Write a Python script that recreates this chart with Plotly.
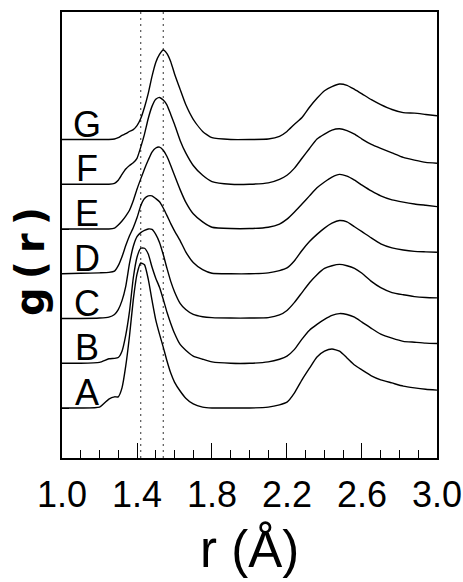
import plotly.graph_objects as go

# r grid (Angstrom)
r = [1.00, 1.10, 1.20, 1.25, 1.28, 1.30, 1.32, 1.34, 1.36, 1.38, 1.40, 1.42, 1.44, 1.46,
     1.48, 1.50, 1.52, 1.54, 1.56, 1.58, 1.60, 1.63, 1.66, 1.70, 1.75, 1.80, 1.90, 2.00,
     2.10, 2.16, 2.20, 2.24, 2.28, 2.32, 2.36, 2.40, 2.44, 2.48, 2.52, 2.56, 2.60, 2.65,
     2.70, 2.76, 2.82, 2.88, 2.94, 3.00]

g_A = [0, 0, 0.02, 0.20, 0.25, 0.25, 0.45, 0.94, 1.61, 2.41, 2.99, 3.24, 3.20, 2.88,
       2.41, 1.97, 1.65, 1.36, 1.05, 0.78, 0.58, 0.38, 0.22, 0.09, 0.02, 0, 0, 0,
       0.02, 0.07, 0.13, 0.34, 0.63, 0.89, 1.14, 1.27, 1.32, 1.27, 1.12, 0.96, 0.85, 0.72,
       0.63, 0.56, 0.49, 0.45, 0.42, 0.40]
g_B = [0, 0, 0.02, 0.10, 0.11, 0.13, 0.27, 0.63, 1.16, 1.90, 2.37, 2.57, 2.57, 2.44,
       2.15, 1.90, 1.70, 1.43, 1.14, 0.89, 0.67, 0.42, 0.29, 0.16, 0.09, 0.03, 0, 0,
       0.03, 0.09, 0.16, 0.31, 0.54, 0.74, 0.87, 0.98, 1.07, 1.11, 1.09, 1.03, 0.92, 0.78,
       0.65, 0.56, 0.49, 0.47, 0.45, 0.44]
g_C = [0, 0, 0.01, 0.03, 0.09, 0.20, 0.40, 0.72, 1.23, 1.61, 1.83, 1.92, 1.97, 2.00,
       1.99, 1.88, 1.70, 1.43, 1.12, 0.83, 0.60, 0.34, 0.20, 0.09, 0.04, 0.02, 0.01, 0.01,
       0.02, 0.08, 0.18, 0.36, 0.58, 0.80, 0.98, 1.12, 1.18, 1.21, 1.18, 1.12, 1.01, 0.83,
       0.69, 0.58, 0.53, 0.49, 0.47, 0.46]
g_D = [0, 0.01, 0.02, 0.03, 0.06, 0.18, 0.38, 0.63, 0.85, 1.03, 1.25, 1.52, 1.68, 1.74,
       1.74, 1.68, 1.61, 1.47, 1.30, 1.12, 0.96, 0.74, 0.49, 0.25, 0.09, 0.01, 0, 0,
       0.02, 0.07, 0.13, 0.29, 0.52, 0.72, 0.88, 1.02, 1.13, 1.19, 1.16, 1.05, 0.94, 0.80,
       0.67, 0.58, 0.53, 0.50, 0.49, 0.48]
g_E = [0, 0, 0, 0, 0.02, 0.09, 0.18, 0.29, 0.42, 0.63, 0.89, 1.12, 1.34, 1.54,
       1.72, 1.81, 1.83, 1.76, 1.62, 1.42, 1.20, 0.88, 0.60, 0.34, 0.16, 0.04, 0.01, 0.01,
       0.04, 0.11, 0.22, 0.38, 0.56, 0.74, 0.92, 1.05, 1.16, 1.22, 1.18, 1.09, 0.98, 0.85,
       0.74, 0.65, 0.60, 0.56, 0.53, 0.50]
g_F = [0, 0, 0, 0, 0.02, 0.09, 0.22, 0.34, 0.42, 0.48, 0.58, 0.83, 1.12, 1.47,
       1.74, 1.90, 1.94, 1.88, 1.77, 1.56, 1.34, 0.98, 0.70, 0.42, 0.20, 0.06, 0, 0,
       0.03, 0.11, 0.20, 0.36, 0.58, 0.80, 1.01, 1.12, 1.21, 1.24, 1.20, 1.12, 1.01, 0.89,
       0.80, 0.70, 0.60, 0.54, 0.49, 0.47]
g_G = [0, 0, 0, 0, 0.01, 0.04, 0.09, 0.13, 0.18, 0.22, 0.31, 0.47, 0.72, 1.03,
       1.41, 1.72, 1.90, 2.00, 1.92, 1.74, 1.47, 1.12, 0.78, 0.45, 0.18, 0.04, 0, 0,
       0.01, 0.07, 0.18, 0.34, 0.49, 0.72, 0.92, 1.09, 1.18, 1.24, 1.21, 1.12, 1.02, 0.89,
       0.78, 0.67, 0.60, 0.59, 0.56, 0.53]

labels = ["A", "B", "C", "D", "E", "F", "G"]
offsets = [0, 1, 2, 3, 4, 5, 6]
series = [g_A, g_B, g_C, g_D, g_E, g_F, g_G]
ref_lines = [1.42, 1.54]          # dotted reference distances
x_ticks = [1.0, 1.4, 1.8, 2.2, 2.6, 3.0]
x_ticktext = ["1.0", "1.4", "1.8", "2.2", "2.6", "3.0"]
label_r = 1.133

FONT = "Liberation Sans, Arial, sans-serif"

fig = go.Figure()
for lab, off, g in zip(labels, offsets, series):
    fig.add_trace(go.Scatter(
        x=r, y=[v + off for v in g], mode="lines",
        line=dict(color="black", width=1.4, shape="spline", smoothing=0.5),
        showlegend=False, hoverinfo="skip"))
    fig.add_annotation(x=label_r, y=off, xref="x", yref="y", text=lab,
                       showarrow=False, xanchor="center", yanchor="bottom", yshift=-7,
                       font=dict(family=FONT, size=36, color="black"))

for xv in ref_lines:
    fig.add_shape(type="line", x0=xv, x1=xv, y0=0, y1=1, xref="x", yref="paper",
                  line=dict(color="#333333", width=1, dash="2px,4px"), layer="below")

fig.add_annotation(x=0.5, y=-0.205, xref="paper", yref="paper",
                   text="r\u00a0(Å)", showarrow=False, xanchor="center", yanchor="middle",
                   font=dict(family=FONT, size=51, color="black"))
fig.add_annotation(x=-0.085, y=0.44, xref="paper", yref="paper",
                   text="g\u2009(\u2009r\u2009)", showarrow=False, textangle=-90,
                   xanchor="center", yanchor="middle",
                   font=dict(family="DejaVu Sans", size=40, color="black", weight="bold"))

fig.update_xaxes(range=[1.0, 3.0001], tickvals=x_ticks, ticktext=x_ticktext,
                 ticks="inside", ticklen=15, tickwidth=1.3, tickcolor="black",
                 minor=dict(dtick=0.1, tick0=1.0, ticks="inside", ticklen=8,
                            tickwidth=1.3, tickcolor="black"),
                 showline=True, linecolor="black", linewidth=1.8, mirror=True,
                 showgrid=False, zeroline=False, ticklabelstandoff=4,
                 ticklabeloverflow="allow", automargin=False,
                 tickfont=dict(family=FONT, size=36, color="black"))
fig.update_yaxes(range=[-1.117, 8.849], tickvals=offsets, ticks="inside", ticklen=7,
                 tickwidth=1.2, tickcolor="black", showticklabels=False,
                 showline=True, linecolor="black", linewidth=1.5, mirror=True,
                 showgrid=False, zeroline=False, automargin=False)

fig.update_layout(width=463, height=582, margin=dict(l=62, r=26, t=12, b=124),
                  paper_bgcolor="white", plot_bgcolor="white")

fig.write_html("out.html")
